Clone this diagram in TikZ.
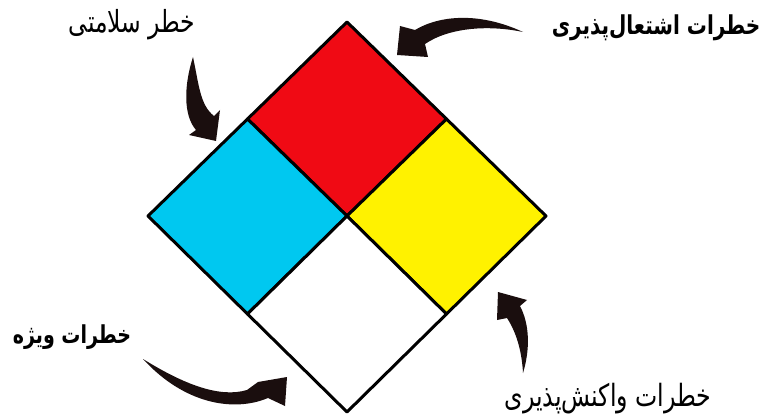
\documentclass[tikz,border=0pt]{standalone}
\usepackage{fontspec}
\TeXXeTstate=1
\newfontfamily\farsi[Script=Arabic]{DejaVu Sans}
\definecolor{hzRed}{HTML}{F00A14}
\definecolor{hzBlue}{HTML}{00C8F0}
\definecolor{hzYellow}{HTML}{FFF200}
\definecolor{hzInk}{HTML}{1A0E0E}
\newcommand{\tallR}[1]{\scalebox{1}[1.3]{\beginR #1\endR}}

\begin{document}
\begin{tikzpicture}[x=0.5pt,y=-0.5pt,
  sq/.style={draw=black,line width=1.5pt,line join=round},
  lbl/.style={font=\farsi\fontsize{#1pt}{#1pt}\selectfont,inner sep=0pt},
  harrow/.style={fill=hzInk,line join=round}]
  \useasboundingbox (0,0) rectangle (761,417);
  % corners of the diamond
  \coordinate (T) at (347,22);    \coordinate (R) at (546,216);
  \coordinate (B) at (347,412);   \coordinate (L) at (148,216);
  \coordinate (C) at (347,216);
  \coordinate (TL) at (247.5,119); \coordinate (TR) at (446.5,119);
  \coordinate (BL) at (247.5,314); \coordinate (BR) at (446.5,314);
  % the four quarters
  \filldraw[sq,fill=hzRed] (T) -- (TR) -- (C) -- (TL) -- cycle;
  \filldraw[sq,fill=hzBlue] (TL) -- (C) -- (BL) -- (L) -- cycle;
  \filldraw[sq,fill=hzYellow] (TR) -- (R) -- (BR) -- (C) -- cycle;
  \filldraw[sq,fill=white] (C) -- (BR) -- (B) -- (BL) -- cycle;
  % labels
  \node[lbl=11.7] (health) at (132,25) {\tallR{خطر سلامتی}};
  \node[lbl=10] (fire) at (656,28) {\bfseries\tallR{خطرات اشتعال^^^^200cپذیری}};
  \node[lbl=9.5] (special) at (72,337) {\bfseries\tallR{خطرات ویژه}};
  \node[lbl=11.8] (react) at (608,399) {\tallR{خطرات واکنش^^^^200cپذیری}};
  % tapered arrows: tail -> tip
  \coordinate (healthA) at (193,57);   \coordinate (healthB) at (216,141);
  \coordinate (fireA) at (523,32);     \coordinate (fireB) at (397,55);
  \coordinate (specialA) at (143,359); \coordinate (specialB) at (287,377);
  \coordinate (reactA) at (523,373);   \coordinate (reactB) at (498,292);
  \fill[harrow] (healthA) .. controls (199,85) and (200,105) .. (214,116)
    -- (220,110) -- (healthB) -- (189,135) -- (196,130)
    .. controls (183,115) and (184,85) .. (healthA) -- cycle;
  \fill[harrow] (fireA) .. controls (480,12) and (440,15) .. (415,30)
    -- (400,26) -- (fireB) -- (428,57) -- (425,44)
    .. controls (450,27) and (490,25) .. (fireA) -- cycle;
  \fill[harrow] (specialA) .. controls (185,385) and (220,398) .. (247,390)
    -- (258,382) -- (specialB) -- (285,406) -- (268,398)
    .. controls (235,412) and (185,405) .. (specialA) -- cycle;
  \fill[harrow] (reactA) .. controls (530,350) and (530,325) .. (520,306)
    -- (527,300) -- (reactB) -- (497,320) -- (507,318)
    .. controls (518,335) and (522,355) .. (reactA) -- cycle;
\end{tikzpicture}
\end{document}
